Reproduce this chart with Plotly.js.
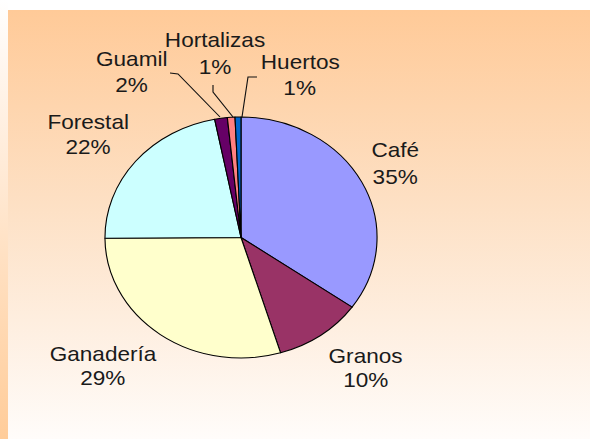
<!DOCTYPE html>
<html>
<head>
<meta charset="utf-8">
<script src="https://cdn.plot.ly/plotly-3.0.1.min.js"></script>
<style>
  html, body { margin:0; padding:0; width:590px; height:439px; overflow:hidden; background:#ffffff; }
  #strip { position:absolute; left:0; top:0; width:8px; height:439px;
           background:linear-gradient(to bottom, #ffffff 0%, #fff6ee 15%, #ffcc99 100%); }
  #panel { position:absolute; left:8px; top:10px; width:582px; height:429px;
           background:linear-gradient(to bottom, #ffca98 0%, #fde0c4 45%, #fffcfa 100%); }
  #plot { position:absolute; left:0; top:0; width:523px; height:439px;
          transform:scaleX(1.129); transform-origin:0 0; }
</style>
</head>
<body>
<div id="strip"></div>
<div id="panel"></div>
<div id="plot"></div>
<script>
// ---- data ----
const labels = ['Café', 'Granos', 'Ganadería', 'Forestal', 'Guamil', 'Hortalizas', 'Huertos'];
const values = [34.8, 10.5, 29.6, 22.0, 1.5, 0.9, 0.7];
const pctLabels = ['35%', '10%', '29%', '22%', '2%', '1%', '1%'];
const colors = ['#9999ff', '#993366', '#ffffcc', '#ccffff', '#660066', '#ff8080', '#0066cc'];

// ---- layout helpers (positions in screen px of the 590x439 picture) ----
const SX = 1.129, W = 523, H = 439;
const px = x => (x / SX) / W;
const py = y => 1 - y / H;
// label placement: [center x, line1 y, line2 y]
const labelPos = [
  [395, 150, 177],
  [366, 356, 380],
  [103, 354, 378],
  [88, 122, 147],
  [132, 59, 85],
  [215, 40, 67],
  [300, 62, 88]
];
const font = {family: 'Liberation Sans, Arial, sans-serif', size: 20, color: '#1a1a1a'};
const annotations = [];
labels.forEach((lab, i) => {
  const p = labelPos[i];
  annotations.push({xref:'paper', yref:'paper', x:px(p[0]), y:py(p[1]), text:lab,
    showarrow:false, xanchor:'center', yanchor:'middle', font:font});
  annotations.push({xref:'paper', yref:'paper', x:px(p[0]), y:py(p[2]), text:pctLabels[i],
    showarrow:false, xanchor:'center', yanchor:'middle', font:font});
});
// leader lines for the small slices
const leaders = [
  [[170, 73], [178, 74], [220, 117]],
  [[213, 85], [213, 92], [233, 117]],
  [[257, 77], [248, 77], [242, 117]]
];
const shapes = leaders.map(pts => ({
  type:'path', xref:'paper', yref:'paper',
  path: pts.map((q, k) => (k ? 'L' : 'M') + px(q[0]) + ',' + py(q[1])).join(' '),
  line:{color:'#111111', width:1}
}));

const cx = 241 / SX, cy = 237.5, r = 120.5;
const trace = {
  type:'pie', labels:labels, values:values, sort:false, direction:'clockwise', rotation:0,
  marker:{colors:colors, line:{color:'#000000', width:1}},
  textinfo:'none', hoverinfo:'none', showlegend:false,
  domain:{x:[(cx - r) / W, (cx + r) / W], y:[1 - (cy + r) / H, 1 - (cy - r) / H]}
};
Plotly.newPlot('plot', [trace], {
  width:W, height:H, margin:{l:0, r:0, t:0, b:0},
  paper_bgcolor:'rgba(0,0,0,0)', plot_bgcolor:'rgba(0,0,0,0)',
  showlegend:false, annotations:annotations, shapes:shapes
}, {staticPlot:true});
</script>
</body>
</html>
